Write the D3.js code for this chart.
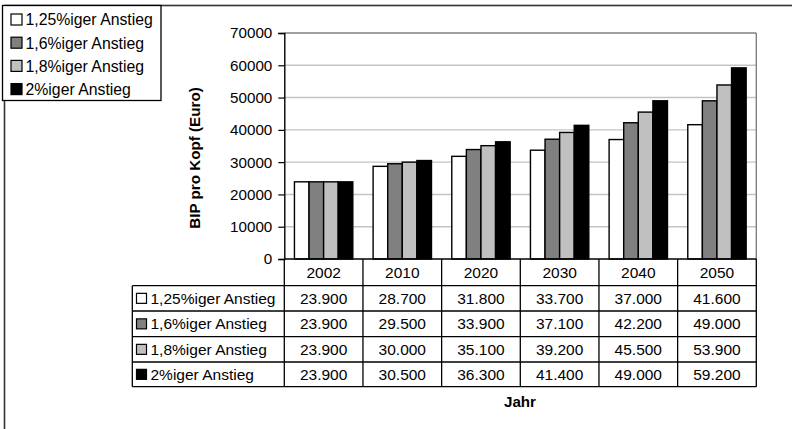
<!DOCTYPE html>
<html>
<head>
<meta charset="utf-8">
<script src="https://cdn.jsdelivr.net/npm/d3@7"></script>
<style>
  html, body { margin: 0; padding: 0; background: #fff; }
  svg { display: block; font-family: "Liberation Sans", Arial, sans-serif; }
</style>
</head>
<body>
<svg id="chart" width="792" height="429"></svg>
<script>
// GDP per capita projections by growth scenario
const years = ["2002", "2010", "2020", "2030", "2040", "2050"];
const seriesNames = ["1,25%iger Anstieg", "1,6%iger Anstieg", "1,8%iger Anstieg", "2%iger Anstieg"];
const growth125 = [23900, 28700, 31800, 33700, 37000, 41600];
const growth16  = [23900, 29500, 33900, 37100, 42200, 49000];
const growth18  = [23900, 30000, 35100, 39200, 45500, 53900];
const growth2   = [23900, 30500, 36300, 41400, 49000, 59200];
const yTicks = [0, 10000, 20000, 30000, 40000, 50000, 60000, 70000];
const fills = ["#ffffff", "#808080", "#c0c0c0", "#000000"];

const seriesValues = [growth125, growth16, growth18, growth2];

const svg = d3.select("#chart");
const fmtTable = d3.formatLocale({ decimal: ",", thousands: ".", grouping: [3], currency: ["", "€"] }).format(",.0f");

// Plot geometry
const plot = { left: 284.3, right: 756.3, top: 33, bottom: 259 };
const rowTops = [259, 285.7, 311, 336.7, 362, 386.7];
const tableLeft = 132.3;
const tableFont = 15.5;

const x0 = d3.scaleBand().domain(years).range([plot.left, plot.right]).paddingInner(0).paddingOuter(0);
const groupW = x0.bandwidth() * 0.742;
const x1 = d3.scaleBand().domain(d3.range(seriesNames.length))
  .range([(x0.bandwidth() - groupW) / 2, (x0.bandwidth() + groupW) / 2]);
const y = d3.scaleLinear().domain([0, 70000]).range([plot.bottom, plot.top]);

// Outer frame
svg.append("rect")
  .attr("x", 4.5).attr("y", 5.5).attr("width", 800).attr("height", 440)
  .attr("fill", "none").attr("stroke", "#333").attr("stroke-width", 1.6);

// Gridlines
svg.append("g").selectAll("line").data(yTicks.filter(t => t > 0)).join("line")
  .attr("x1", plot.left).attr("x2", plot.right)
  .attr("y1", d => y(d)).attr("y2", d => y(d))
  .attr("stroke", d => d === 70000 ? "#808080" : "#c4c4c4")
  .attr("stroke-width", 1.4);

// Right border of plot area
svg.append("line")
  .attr("x1", plot.right).attr("x2", plot.right)
  .attr("y1", plot.top).attr("y2", plot.bottom)
  .attr("stroke", "#808080").attr("stroke-width", 1.4);

// Bars
const groups = svg.append("g").selectAll("g").data(years).join("g")
  .attr("transform", d => `translate(${x0(d)},0)`);
groups.selectAll("rect")
  .data((d, i) => seriesValues.map((vals, s) => ({ s, v: vals[i] })))
  .join("rect")
  .attr("x", d => x1(d.s))
  .attr("width", x1.bandwidth())
  .attr("y", d => y(d.v))
  .attr("height", d => y(0) - y(d.v))
  .attr("fill", d => fills[d.s])
  .attr("stroke", "#000")
  .attr("stroke-width", 1.4);

// Y axis
const yAxis = d3.axisLeft(y).tickValues(yTicks).tickSize(6).tickPadding(6).tickFormat(d3.format("d"));
const gy = svg.append("g").attr("transform", `translate(${plot.left},0)`).call(yAxis);
gy.select(".domain").attr("stroke", "#000").attr("stroke-width", 1.4);
gy.selectAll(".tick line").attr("stroke", "#000").attr("stroke-width", 1.2);
gy.selectAll(".tick text").attr("font-size", 15.2).attr("fill", "#000")
  .attr("font-family", "'Liberation Sans', Arial, sans-serif");

// Y axis title
svg.append("text")
  .attr("transform", "translate(200,158) rotate(-90)")
  .attr("text-anchor", "middle")
  .attr("font-size", 15.2).attr("font-weight", "bold")
  .text("BIP pro Kopf (Euro)");

// Data table
const table = svg.append("g");
const lineAttrs = sel => sel.attr("stroke", "#000").attr("stroke-width", 1.3);

// horizontal lines
rowTops.forEach((ry, i) => {
  table.append("line")
    .attr("x1", i === 0 ? plot.left : tableLeft).attr("x2", plot.right)
    .attr("y1", ry).attr("y2", ry).call(lineAttrs);
});
// vertical lines
years.forEach(yr => {
  table.append("line").attr("x1", x0(yr)).attr("x2", x0(yr))
    .attr("y1", rowTops[0]).attr("y2", rowTops[5]).call(lineAttrs);
});
table.append("line").attr("x1", plot.right).attr("x2", plot.right)
  .attr("y1", rowTops[0]).attr("y2", rowTops[5]).call(lineAttrs);
table.append("line").attr("x1", tableLeft).attr("x2", tableLeft)
  .attr("y1", rowTops[1]).attr("y2", rowTops[5]).call(lineAttrs);

// header: years
table.selectAll("text.year").data(years).join("text")
  .attr("class", "year")
  .attr("x", d => x0(d) + x0.bandwidth() / 2)
  .attr("y", (rowTops[0] + rowTops[1]) / 2 + 5.5)
  .attr("text-anchor", "middle").attr("font-size", tableFont)
  .text(d => d);

// value rows
seriesValues.forEach((vals, s) => {
  const cy = (rowTops[s + 1] + rowTops[s + 2]) / 2;
  table.append("rect")
    .attr("x", 136.5).attr("y", cy - 5).attr("width", 10).attr("height", 10)
    .attr("fill", fills[s]).attr("stroke", "#000").attr("stroke-width", 1.2);
  table.append("text")
    .attr("x", 150.5).attr("y", cy + 5.5).attr("font-size", tableFont)
    .text(seriesNames[s]);
  table.selectAll(null).data(vals).join("text")
    .attr("x", (d, i) => x0(years[i]) + x0.bandwidth() / 2)
    .attr("y", cy + 5.5)
    .attr("text-anchor", "middle").attr("font-size", tableFont)
    .text(d => fmtTable(d));
});

// X axis title
svg.append("text")
  .attr("x", 520).attr("y", 407)
  .attr("text-anchor", "middle").attr("font-size", 15.2).attr("font-weight", "bold")
  .text("Jahr");

// Legend box
const legend = svg.append("g");
legend.append("rect")
  .attr("x", 2.5).attr("y", 5.5).attr("width", 158.5).attr("height", 95)
  .attr("fill", "#fff").attr("stroke", "#000").attr("stroke-width", 1.3);
const legendY = [19.5, 42.7, 65.9, 89.1];
seriesNames.forEach((name, s) => {
  legend.append("rect")
    .attr("x", 11).attr("y", legendY[s] - 5.5).attr("width", 11).attr("height", 11)
    .attr("fill", fills[s]).attr("stroke", "#000").attr("stroke-width", 1.2);
  legend.append("text")
    .attr("x", 25.5).attr("y", legendY[s] + 5.8).attr("font-size", 15.8)
    .text(name);
});
</script>
</body>
</html>
